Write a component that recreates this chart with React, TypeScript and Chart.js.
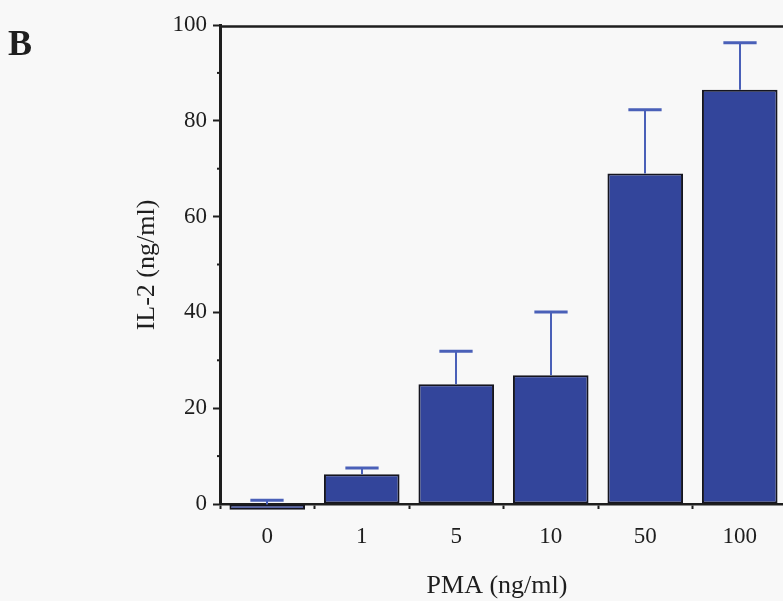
import React, { useEffect, useRef } from "react";
import { Chart, registerables } from "chart.js";

Chart.register(...registerables);

// ---- data ----
const categories = ["0", "1", "5", "10", "50", "100"];
const il2Means = [-1.2, 6.2, 25, 26.9, 69, 86.5];
const il2ErrorTops = [0.8, 7.5, 31.9, 40.1, 82.3, 96.3];
const yMinorTicks = [10, 30, 50, 70, 90];
const panelLabel = "B";
const yTitle = "IL-2 (ng/ml)";
const xTitle = "PMA (ng/ml)";

// ---- styles ----
const BG = "#f8f8f8";
const BAR_FILL = "#33459b";
const BAR_EDGE = "#15151f";
const ERR_COLOR = "#4a60b8";
const INK = "#1e1e1e";
const SERIF = "'Liberation Serif', 'Times New Roman', serif";

const decorPlugin = {
  id: "decor",
  afterDatasetsDraw(chart: any) {
    const ctx = chart.ctx;
    const meta = chart.getDatasetMeta(0);
    const yScale = chart.scales.y;
    ctx.save();
    ctx.strokeStyle = ERR_COLOR;
    ctx.lineCap = "butt";
    meta.data.forEach((bar: any, i: number) => {
      const x = Math.round(bar.x);
      const top = Math.min(bar.y, bar.base);
      const cap = yScale.getPixelForValue(il2ErrorTops[i]);
      const half = bar.width * 0.22;
      ctx.lineWidth = 2;
      ctx.beginPath();
      ctx.moveTo(x, top);
      ctx.lineTo(x, cap);
      ctx.stroke();
      ctx.lineWidth = 3;
      ctx.beginPath();
      ctx.moveTo(x - half, cap);
      ctx.lineTo(x + half, cap);
      ctx.stroke();
    });
    ctx.restore();
  },
  afterDraw(chart: any) {
    const ctx = chart.ctx;
    const area = chart.chartArea;
    const yScale = chart.scales.y;
    ctx.save();
    // top frame line
    ctx.strokeStyle = INK;
    ctx.lineWidth = 2.5;
    ctx.beginPath();
    ctx.moveTo(area.left, area.top + 1.5);
    ctx.lineTo(area.right, area.top + 1.5);
    ctx.stroke();
    // minor y ticks
    ctx.lineWidth = 2;
    yMinorTicks.forEach((v) => {
      const py = yScale.getPixelForValue(v);
      ctx.beginPath();
      ctx.moveTo(area.left - 3, py);
      ctx.lineTo(area.left, py);
      ctx.stroke();
    });
    // texts
    ctx.fillStyle = INK;
    ctx.font = `bold 36px ${SERIF}`;
    ctx.textAlign = "left";
    ctx.textBaseline = "alphabetic";
    ctx.fillText(panelLabel, 8, 55);

    ctx.font = `26px ${SERIF}`;
    ctx.textAlign = "center";
    ctx.textBaseline = "middle";
    ctx.fillText(xTitle, 497, 586);

    ctx.translate(147, 265);
    ctx.rotate(-Math.PI / 2);
    ctx.fillText(yTitle, 0, 0);
    ctx.restore();
  },
};

export default function App() {
  const canvasRef = useRef<HTMLCanvasElement | null>(null);

  useEffect(() => {
    if (!canvasRef.current) return;
    const chart = new Chart(canvasRef.current, {
      type: "bar",
      data: {
        labels: categories,
        datasets: [
          {
            data: il2Means,
            backgroundColor: BAR_FILL,
            borderColor: BAR_EDGE,
            borderWidth: 2,
            borderSkipped: false,
            categoryPercentage: 1,
            barPercentage: 0.8,
            clip: false as any,
          },
        ],
      },
      options: {
        animation: false,
        responsive: true,
        maintainAspectRatio: false,
        layout: { padding: { left: 0, right: 13, top: 25, bottom: 0 } },
        plugins: {
          legend: { display: false },
          tooltip: { enabled: false },
        },
        scales: {
          x: {
            offset: true,
            grid: {
              display: true,
              offset: true,
              drawOnChartArea: false,
              drawTicks: true,
              tickLength: 5,
              tickWidth: 2,
              tickColor: INK,
            },
            border: { display: true, color: INK, width: 2.5 },
            ticks: {
              color: INK,
              font: { family: SERIF, size: 23 },
              padding: 14,
              maxRotation: 0,
            },
            afterFit: (scale: any) => {
              scale.height = 97;
            },
          },
          y: {
            min: 0,
            max: 100,
            grid: {
              display: true,
              drawOnChartArea: false,
              drawTicks: true,
              tickLength: 7,
              tickWidth: 2,
              tickColor: INK,
            },
            border: { display: true, color: INK, width: 3 },
            ticks: {
              stepSize: 20,
              color: INK,
              font: { family: SERIF, size: 23 },
              padding: 6,
            },
            afterFit: (scale: any) => {
              scale.width = 220;
            },
          },
        },
      },
      plugins: [decorPlugin],
    });
    return () => chart.destroy();
  }, []);

  return (
    <div
      style={{
        position: "fixed",
        left: 0,
        top: 0,
        width: 783,
        height: 601,
        overflow: "hidden",
        background: BG,
      }}
    >
      <div style={{ position: "relative", width: 800, height: 601 }}>
        <canvas ref={canvasRef} />
      </div>
    </div>
  );
}
